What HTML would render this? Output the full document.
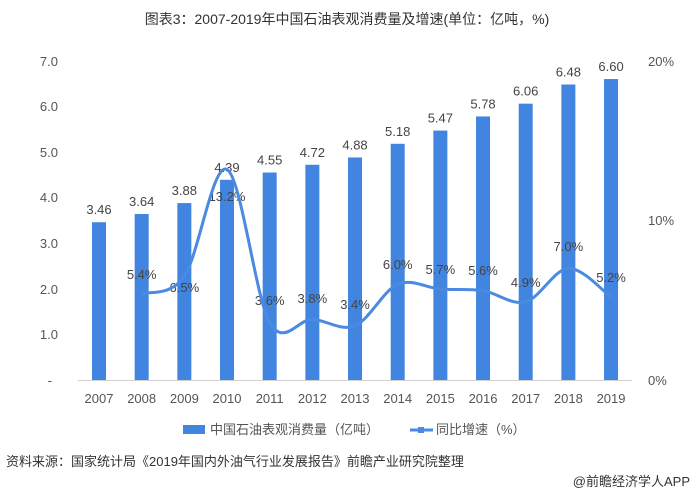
<!DOCTYPE html>
<html><head><meta charset="utf-8"><style>
body{margin:0;background:#fff;}
svg text{font-family:"Liberation Sans","Noto Sans CJK SC",sans-serif;}
</style></head><body>
<svg width="694" height="494" xmlns="http://www.w3.org/2000/svg">
<text x="347" y="24" text-anchor="middle" font-size="14" fill="#333">图表3：2007-2019年中国石油表观消费量及增速(单位：亿吨，%)</text>
<g font-size="13" fill="#555" text-anchor="end">
<text x="58" y="66">7.0</text><text x="58" y="111">6.0</text><text x="58" y="157">5.0</text>
<text x="58" y="202">4.0</text><text x="58" y="248">3.0</text><text x="58" y="294">2.0</text>
<text x="58" y="339">1.0</text><text x="52" y="385">-</text>
</g>
<g font-size="13" fill="#555" text-anchor="start">
<text x="648" y="66">20%</text><text x="648" y="225">10%</text><text x="648" y="385">0%</text>
</g>
<line x1="78" y1="380.5" x2="632" y2="380.5" stroke="#d0d0d0"/>
<g fill="#4285e0" id="bars"></g>
<g id="lbl" font-size="13" fill="#444" text-anchor="middle"></g>
<path id="ln" fill="none" stroke="#4a8ae0" stroke-width="3"/>
<g font-size="13" fill="#555" text-anchor="middle" id="yrs"></g>
<rect x="183" y="425" width="22" height="9" fill="#4285e0"/>
<text x="210" y="434" font-size="13" fill="#555">中国石油表观消费量（亿吨）</text>
<line x1="410" y1="430" x2="433" y2="430" stroke="#4a8ae0" stroke-width="3"/>
<rect x="418" y="427" width="6" height="6" fill="#4a8ae0"/>
<text x="436" y="434" font-size="13" fill="#555">同比增速（%）</text>
<text x="6" y="466" font-size="13" fill="#333">资料来源：国家统计局《2019年国内外油气行业发展报告》前瞻产业研究院整理</text>
<text x="690" y="486" font-size="13" fill="#333" text-anchor="end">@前瞻经济学人APP</text>
</svg>
<script>
const v=[3.46,3.64,3.88,4.39,4.55,4.72,4.88,5.18,5.47,5.78,6.06,6.48,6.60];
const g=[null,5.4,6.5,13.2,3.6,3.8,3.4,6.0,5.7,5.6,4.9,7.0,5.2];
const gy=[0,274,287,196,300,298,304,264,269,270,282,246,277];
const ns="http://www.w3.org/2000/svg";
function el(t,a,p,txt){const e=document.createElementNS(ns,t);for(const k in a)e.setAttribute(k,a[k]);if(txt)e.textContent=txt;document.getElementById(p).appendChild(e);}
const pts=[];
for(let i=0;i<13;i++){
 const cx=99+i*42.67, top=380-v[i]*45.6;
 el('rect',{x:cx-7,y:top,width:14,height:380-top},'bars');
 el('text',{x:cx,y:top-8},'lbl',v[i].toFixed(2));
 el('text',{x:cx,y:403},'yrs',String(2007+i));
 if(g[i]!==null){pts.push([cx,380-g[i]*15.95]);el('text',{x:cx,y:gy[i]+5},'lbl',g[i].toFixed(1)+'%');}
}
let d='M'+pts[0][0]+','+pts[0][1];
for(let i=0;i<pts.length-1;i++){
 const p0=pts[Math.max(0,i-1)],p1=pts[i],p2=pts[i+1],p3=pts[Math.min(pts.length-1,i+2)];
 const c1=[p1[0]+(p2[0]-p0[0])/6,p1[1]+(p2[1]-p0[1])/6],c2=[p2[0]-(p3[0]-p1[0])/6,p2[1]-(p3[1]-p1[1])/6];
 d+=' C'+c1+' '+c2+' '+p2;
}
document.getElementById('ln').setAttribute('d',d);
</script>
</body></html>
